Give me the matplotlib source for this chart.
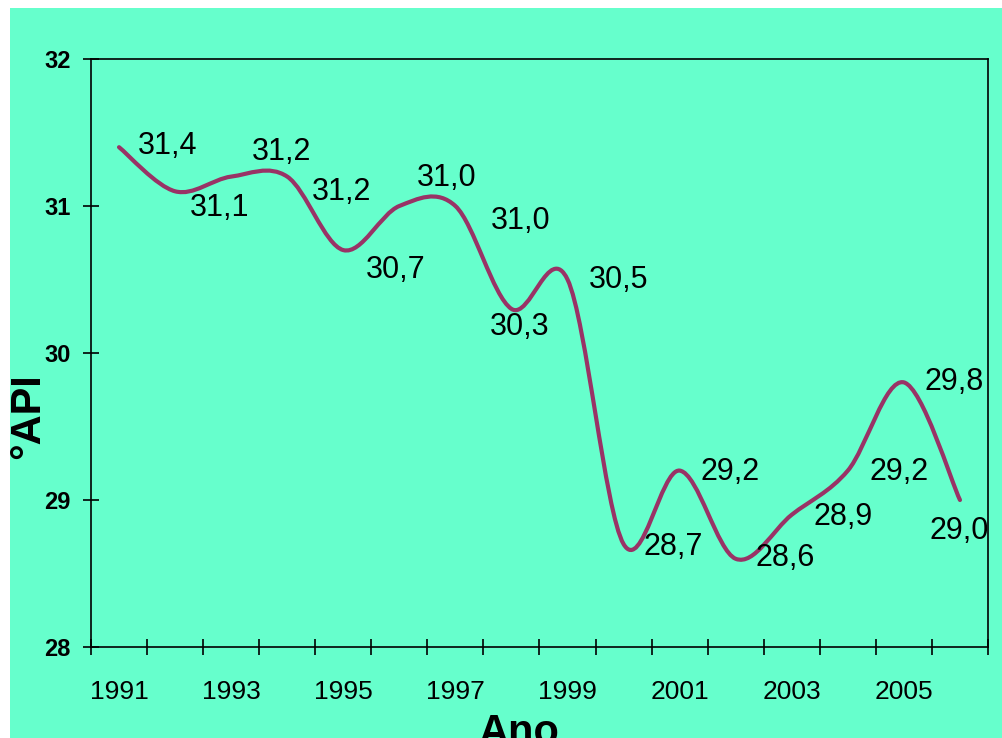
import numpy as np
import matplotlib
matplotlib.use('Agg')
import matplotlib.pyplot as plt
from matplotlib.path import Path
from matplotlib.patches import PathPatch, Rectangle

plt.rcParams['font.family'] = ['Liberation Sans', 'DejaVu Sans']

# Grau API médio por ano
anos = list(range(1991, 2007))
api = [31.4, 31.1, 31.2, 31.2, 30.7, 31.0, 31.0, 30.3,
       30.5, 28.7, 29.2, 28.6, 28.9, 29.2, 29.8, 29.0]
rotulos_x = ['1991', '1993', '1995', '1997', '1999', '2001', '2003', '2005']

# deslocamento (px) de cada rótulo de valor em relação ao ponto
desloc = [(49, 1), (45, -17), (50, 25), (54, -15), (52, -20), (47, 28),
          (65, -15), (8, -18), (51, 0), (50, -3), (50, -1), (49, 1),
          (51, -2), (51, -1), (50, 0), (-1, -31)]

FUNDO = '#66FFCC'
LINHA = '#993366'


def curva_suave(xs, ys):
    """Bezier no estilo 'linha suavizada' do Excel (Catmull-Rom, 1/6)."""
    pts = np.column_stack([xs, ys])
    n = len(pts)
    verts = [pts[0]]
    codes = [Path.MOVETO]
    for i in range(n - 1):
        p0 = pts[i - 1] if i > 0 else pts[i]
        p1 = pts[i]
        p2 = pts[i + 1]
        p3 = pts[i + 2] if i + 2 < n else pts[i + 1]
        c1 = p1 + (p2 - p0) / 6.0
        c2 = p2 - (p3 - p1) / 6.0
        verts += [c1, c2, p2]
        codes += [Path.CURVE4] * 3
    return Path(verts, codes)


fig = plt.figure(figsize=(10.03, 7.38), dpi=100, facecolor='white')
fig.patches.append(Rectangle((10 / 1003, 0), 1, 730 / 738, transform=fig.transFigure,
                             facecolor=FUNDO, edgecolor='none', zorder=-10))

ax = fig.add_axes([91 / 1003, 1 - 647 / 738, 897 / 1003, 588 / 738])
ax.set_facecolor(FUNDO)

x = np.arange(len(anos)) + 0.5
ax.add_patch(PathPatch(curva_suave(x, api), facecolor='none', edgecolor=LINHA,
                       linewidth=3.0, capstyle='round', joinstyle='round'))

for xi, v, (dx, dy) in zip(x, api, desloc):
    ax.annotate(f'{v:.1f}'.replace('.', ','), xy=(xi, v), xytext=(dx, dy),
                textcoords='offset pixels', ha='center', va='center',
                fontsize=22, color='black')

ax.set_xlim(0, len(anos))
ax.set_ylim(28, 32)

# marcas nas divisas das categorias, rótulos no centro dos anos ímpares
ax.set_xticks(np.arange(len(anos) + 1))
ax.set_xticklabels([])
ax.set_xticks(x[::2], minor=True)
ax.set_xticklabels(rotulos_x, minor=True)
ax.tick_params(axis='x', which='major', direction='inout', length=12, width=1.2)
ax.tick_params(axis='x', which='minor', length=0, pad=24, labelsize=19)

ax.set_yticks([28, 29, 30, 31, 32])
ax.set_yticklabels(['28', '29', '30', '31', '32'], fontweight='bold')
ax.tick_params(axis='y', direction='inout', length=11, width=1.2, pad=9, labelsize=17)

for s in ax.spines.values():
    s.set_linewidth(1.2)
    s.set_color('black')

fig.text(519 / 1003, 1 - 733 / 738, 'Ano', ha='center', va='center',
         fontsize=30, fontweight='bold')
fig.text(28 / 1003, 1 - 416 / 738, '°API', ha='center', va='center',
         rotation=90, fontsize=30, fontweight='bold')

fig.savefig('out.png', dpi=100, facecolor=fig.get_facecolor())
